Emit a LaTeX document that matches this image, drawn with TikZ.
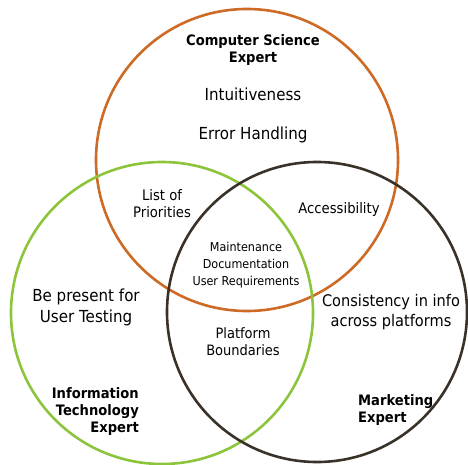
\documentclass[tikz,border=0pt]{standalone}
\usepackage{fontspec}
\setmainfont{DejaVu Sans}[FakeStretch=0.91]
\definecolor{csorange}{HTML}{CC6A26}
\definecolor{itgreen}{HTML}{8CC43C}
\definecolor{mkdark}{HTML}{3A3229}
\begin{document}
\begin{tikzpicture}[x=1pt,y=-1pt,
  ring/.style={line width=2.6pt},
  lbl/.style 2 args={align=center,inner sep=0pt,font=\fontsize{#1}{#2}\selectfont},
  ttl/.style={inner sep=0pt,font=\bfseries\fontsize{14.4}{17}\selectfont}]
\useasboundingbox (0,0) rectangle (468,465);
% the three circles
\draw[ring,csorange] (247,160) circle[radius=151] coordinate (cs);
\draw[ring,itgreen] (162,313) circle[radius=151] coordinate (it);
\draw[ring,mkdark] (317,312) circle[radius=150] coordinate (mk);
% Computer Science only
\node[ttl,align=center] (cstitle) at (253,50.5) {Computer Science\\Expert};
\node[lbl={16.6}{20}] (intuit) at (253,94) {Intuitiveness};
\node[lbl={16.6}{20}] (errh) at (253,135) {Error Handling};
% pairwise overlaps
\node[lbl={14.5}{17}] (prio) at (162,203.5) {List of\\Priorities};
\node[lbl={14.5}{17}] (access) at (339,209) {Accessibility};
\node[lbl={14.3}{17}] (platf) at (243,341.5) {Platform\\Boundaries};
% centre of all three
\node[lbl={12.3}{17}] (centre) at (246,265) {Maintenance\\Documentation\\User Requirements};
% Information Technology only
\node[lbl={16.6}{21}] (present) at (86,307.5) {Be present for\\User Testing};
\node[ttl,align=right,anchor=east] (ittitle) at (139,412) {Information\\Technology\\Expert};
% Marketing only
\node[lbl={16}{20}] (consist) at (391,312) {Consistency in info\\across platforms};
\node[ttl,align=left,anchor=west] (mktitle) at (358,410.5) {Marketing\\Expert};
\end{tikzpicture}
\end{document}
